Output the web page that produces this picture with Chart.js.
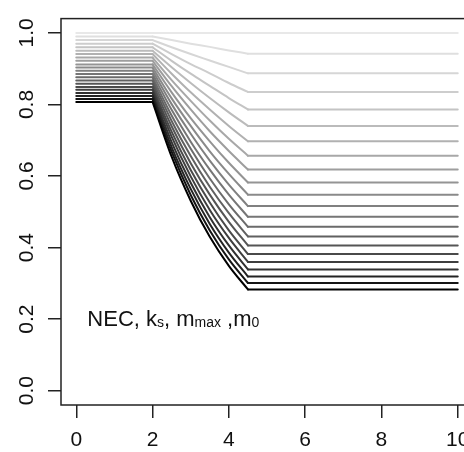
<!DOCTYPE html>
<html>
<head>
<meta charset="utf-8">
<script src="https://cdn.jsdelivr.net/npm/chart.js"></script>
<style>
  html, body { margin: 0; padding: 0; background: #fff; overflow: hidden; }
  #wrap { width: 464px; height: 452px; overflow: hidden; }
</style>
</head>
<body>
<div id="wrap"><canvas id="chart" width="500" height="452"></canvas></div>
<script>
// concentration points: flat start, the bent part, flat end
const flatStartX = [0, 2];
const curveX = [2, 2.5, 3, 3.5, 4, 4.5];
const flatEndX = [4.5, 10];

// survival (light -> dark), column by column
const at2   = [1, .990, .980, .970, .960, .950, .941, .931, .922, .912, .903, .894, .885, .876, .867, .858, .849, .841, .832, .824, .815, .807];
const at2_5 = [1, .980, .960, .941, .922, .904, .886, .868, .851, .834, .817, .801, .785, .769, .754, .739, .724, .710, .695, .681, .668, .654];
const at3   = [1, .970, .941, .913, .886, .860, .834, .810, .786, .762, .740, .718, .696, .676, .656, .636, .617, .599, .581, .564, .547, .531];
const at3_5 = [1, .961, .923, .887, .852, .818, .786, .755, .725, .697, .669, .643, .618, .593, .570, .548, .526, .505, .485, .466, .448, .430];
const at4   = [1, .951, .905, .860, .818, .778, .740, .704, .670, .637, .606, .576, .548, .521, .496, .472, .448, .427, .406, .386, .367, .349];
const at4_5 = [1, .942, .887, .835, .786, .740, .697, .657, .618, .582, .548, .516, .486, .458, .431, .406, .382, .360, .339, .319, .301, .283];

const xTicks = [0, 2, 4, 6, 8, 10];
const xTickLabels = ['0', '2', '4', '6', '8', '10'];
const yTicks = [0, 0.2, 0.4, 0.6, 0.8, 1.0];
const yTickLabels = ['0.0', '0.2', '0.4', '0.6', '0.8', '1.0'];

// annotation text, [text, isSubscript]
const noteParts = [['NEC, k', false], ['s', true], [', m', false], ['max', true], [' ,m', false], ['0', true]];
const notePos = { x: 0.29, y: 0.18 };

const FONT = "'Liberation Sans', Arial, sans-serif";
const n = at2.length;

const datasets = [];
for (let i = 0; i < n; i++) {
    const g = Math.round(232 * Math.pow(1 - i / (n - 1), 0.8));
    const style = {
        borderColor: `rgb(${g},${g},${g})`,
        borderWidth: 2,
        borderCapStyle: 'round',
        borderJoinStyle: 'round',
        pointRadius: 0,
        fill: false,
        order: n - 1 - i
    };
    const curveY = [at2[i], at2_5[i], at3[i], at3_5[i], at4[i], at4_5[i]];
    // flat parts, with a gap over the bent part
    datasets.push(Object.assign({
        data: flatStartX.map(x => ({ x: x, y: at2[i] }))
            .concat([{ x: 3, y: null }])
            .concat(flatEndX.map(x => ({ x: x, y: at4_5[i] }))),
        tension: 0,
        spanGaps: false
    }, style));
    // bent part
    datasets.push(Object.assign({
        data: curveX.map((x, k) => ({ x: x, y: curveY[k] })),
        cubicInterpolationMode: 'monotone'
    }, style));
}

const boxPlugin = {
    id: 'box',
    afterDraw(chart) {
        const { ctx, chartArea: a } = chart;
        ctx.save();
        ctx.strokeStyle = '#222';
        ctx.lineWidth = 1.5;
        ctx.strokeRect(a.left, a.top, a.right - a.left, a.bottom - a.top);
        ctx.restore();
    }
};

const notePlugin = {
    id: 'note',
    afterDatasetsDraw(chart) {
        const { ctx, scales } = chart;
        let x = scales.x.getPixelForValue(notePos.x);
        const y = scales.y.getPixelForValue(notePos.y);
        ctx.save();
        ctx.fillStyle = '#111';
        ctx.textBaseline = 'alphabetic';
        ctx.textAlign = 'left';
        noteParts.forEach(([txt, sub]) => {
            ctx.font = sub ? `14px ${FONT}` : `22px ${FONT}`;
            ctx.fillText(txt, x, sub ? y + 1 : y);
            x += ctx.measureText(txt).width;
        });
        ctx.restore();
    }
};

const tickGrid = { display: true, drawOnChartArea: false, drawTicks: true, tickLength: 13, color: '#222', lineWidth: 1.5 };

new Chart(document.getElementById('chart').getContext('2d'), {
    type: 'line',
    data: { datasets: datasets },
    options: {
        responsive: false,
        animation: false,
        devicePixelRatio: 1,
        layout: { padding: { left: 0, top: 12, right: 27, bottom: 0 } },
        plugins: { legend: { display: false }, tooltip: { enabled: false } },
        scales: {
            x: {
                type: 'linear',
                min: -0.4,
                max: 10.4,
                afterBuildTicks: s => { s.ticks = xTicks.map(v => ({ value: v })); },
                afterFit: s => { s.height = 47; },
                grid: tickGrid,
                border: { display: false },
                ticks: {
                    autoSkip: false,
                    maxRotation: 0,
                    padding: 10,
                    color: '#111',
                    font: { family: FONT, size: 21 },
                    callback: (v, idx) => xTickLabels[idx]
                }
            },
            y: {
                type: 'linear',
                min: -0.04,
                max: 1.04,
                afterBuildTicks: s => { s.ticks = yTicks.map(v => ({ value: v })); },
                afterFit: s => { s.width = 61; },
                grid: tickGrid,
                border: { display: false },
                ticks: {
                    autoSkip: false,
                    minRotation: 90,
                    maxRotation: 90,
                    crossAlign: 'center',
                    padding: 6,
                    color: '#111',
                    font: { family: FONT, size: 21 },
                    callback: (v, idx) => yTickLabels[idx]
                }
            }
        }
    },
    plugins: [boxPlugin, notePlugin]
});
</script>
</body>
</html>
